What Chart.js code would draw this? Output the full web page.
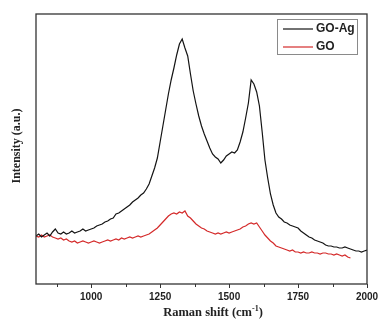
<!DOCTYPE html>
<html>
<head>
<meta charset="utf-8">
<script src="https://cdn.jsdelivr.net/npm/chart.js@4.4.0/dist/chart.umd.min.js"></script>
<style>
  html, body { margin: 0; padding: 0; background: #fff; }
  #wrap { width: 379px; height: 323px; }
</style>
</head>
<body>
<div id="wrap"><canvas id="c" width="379" height="323"></canvas></div>
<script>
// Raman shift axis (cm-1), 10 cm-1 steps
const shiftStart = 800;
const shiftStep = 10;

// GO-Ag intensity, 800..2000
const goAg = [
  48, 50, 47, 49, 51, 48, 52, 55, 51, 50,
  52, 50, 51, 53, 51, 52, 53, 55, 53, 54,
  55, 56, 58, 59, 60, 62, 63, 65, 66, 70,
  71, 73, 75, 77, 79, 82, 84, 86, 89, 91,
  95, 100, 108, 116, 126, 142, 158, 174, 190, 204,
  216, 229, 240, 245, 236, 228, 210, 193, 180, 168,
  158, 150, 143, 136, 130, 127, 125, 121, 124, 128,
  130, 132, 131, 134, 142, 152, 166, 181, 204, 200,
  192, 178, 152, 124, 106, 90, 79, 71, 67, 65,
  62, 61, 59, 58, 57, 56, 53, 51, 49, 47,
  46, 44, 43, 42, 41, 39, 38, 38, 37, 37,
  36, 36, 37, 36, 35, 34, 33, 33, 32, 33,
  34
];

// GO intensity, 800..1940
const goPlain = [
  48, 47, 49, 47, 48, 49, 47, 46, 45, 46,
  44, 45, 43, 42, 43, 41, 42, 43, 42, 41,
  42, 43, 42, 41, 42, 43, 44, 43, 44, 45,
  44, 46, 45, 46, 47, 46, 47, 48, 47, 48,
  49, 50, 52, 54, 56, 59, 62, 65, 68, 70,
  71, 70, 72, 71, 73, 68, 66, 63, 60, 58,
  56, 55, 53, 52, 51, 50, 51, 50, 51, 52,
  51, 52, 53, 54, 55, 57, 58, 60, 61, 60,
  61, 57, 53, 49, 46, 43, 41, 38, 37, 36,
  35, 34, 33, 34, 32, 32, 31, 32, 31, 31,
  32, 31, 31, 30, 31, 31, 30, 30, 29, 30,
  29, 28, 29, 27, 26
];

const seriesNames = ['GO-Ag', 'GO'];
const seriesColors = ['#141414', '#d42a2a'];
const majorTicks = [1000, 1250, 1500, 1750, 2000];
const minorTicks = [875, 1125, 1375, 1625, 1875];

function toPoints(arr) {
  return arr.map((v, i) => ({ x: shiftStart + i * shiftStep, y: v }));
}

const frameColor = '#333';

const framePlugin = {
  id: 'frame',
  afterDraw(chart) {
    const { ctx, chartArea: a, scales } = chart;
    const xs = scales.x;
    ctx.save();
    ctx.strokeStyle = frameColor;
    ctx.lineWidth = 1.3;
    ctx.strokeRect(a.left, a.top, a.right - a.left, a.bottom - a.top);

    // ticks below the bottom axis
    ctx.lineWidth = 1;
    majorTicks.concat(minorTicks).forEach(v => {
      const px = Math.round(xs.getPixelForValue(v)) + 0.5;
      const len = majorTicks.includes(v) ? 4 : 3;
      ctx.beginPath();
      ctx.moveTo(px, a.bottom);
      ctx.lineTo(px, a.bottom + len);
      ctx.stroke();
    });

    // axis titles
    ctx.fillStyle = '#222';
    ctx.font = 'bold 12px "Liberation Serif", "DejaVu Serif", serif';
    ctx.textAlign = 'center';
    ctx.textBaseline = 'middle';
    ctx.save();
    ctx.translate(17, (a.top + a.bottom) / 2 - 3);
    ctx.rotate(-Math.PI / 2);
    ctx.fillText('Intensity (a.u.)', 0, 0);
    ctx.restore();

    const base = 'Raman shift (cm';
    const sup = '-1';
    const tail = ')';
    ctx.font = 'bold 12.5px "Liberation Serif", serif';
    const wBase = ctx.measureText(base).width;
    const wTail = ctx.measureText(tail).width;
    ctx.font = 'bold 8px "Liberation Serif", serif';
    const wSup = ctx.measureText(sup).width;
    const total = wBase + wSup + wTail;
    let x0 = 213 - total / 2;
    const y0 = 313;
    ctx.textAlign = 'left';
    ctx.font = 'bold 12.5px "Liberation Serif", serif';
    ctx.fillText(base, x0, y0);
    ctx.font = 'bold 8px "Liberation Serif", serif';
    ctx.fillText(sup, x0 + wBase, y0 - 4);
    ctx.font = 'bold 12.5px "Liberation Serif", serif';
    ctx.fillText(tail, x0 + wBase + wSup, y0);

    // legend box
    const bx = a.right - 90, by = a.top + 5, bw = 80, bh = 35;
    ctx.strokeStyle = '#8a8a8a';
    ctx.lineWidth = 1;
    ctx.strokeRect(bx + 0.5, by + 0.5, bw, bh);
    ctx.font = 'bold 12px "Liberation Sans", Arial, sans-serif';
    ctx.textBaseline = 'middle';
    seriesNames.forEach((name, i) => {
      const ly = by + 10 + i * 18;
      ctx.strokeStyle = seriesColors[i];
      ctx.lineWidth = 1.2;
      ctx.beginPath();
      ctx.moveTo(bx + 6, ly);
      ctx.lineTo(bx + 36, ly);
      ctx.stroke();
      ctx.fillStyle = '#222';
      ctx.fillText(name, bx + 39, ly);
    });
    ctx.restore();
  }
};

new Chart(document.getElementById('c'), {
  type: 'line',
  data: {
    datasets: [
      { label: seriesNames[0], data: toPoints(goAg), borderColor: seriesColors[0], borderWidth: 1.2 },
      { label: seriesNames[1], data: toPoints(goPlain), borderColor: seriesColors[1], borderWidth: 1.2 }
    ]
  },
  options: {
    responsive: false,
    animation: false,
    layout: { padding: { top: 14, right: 12, left: 0, bottom: 0 } },
    elements: { point: { radius: 0 }, line: { tension: 0 } },
    plugins: { legend: { display: false }, tooltip: { enabled: false } },
    scales: {
      x: {
        type: 'linear',
        min: 800,
        max: 2000,
        afterBuildTicks: s => { s.ticks = majorTicks.map(v => ({ value: v })); },
        afterFit: s => { s.height = 39; s.paddingLeft = 0; s.paddingRight = 0; },
        grid: { display: false, drawTicks: false, tickLength: 0 },
        border: { display: false },
        ticks: {
          color: '#222',
          padding: 7,
          maxRotation: 0,
          callback: v => String(v),
          font: { family: '"Liberation Sans", Arial, sans-serif', size: 10, weight: 'bold' }
        }
      },
      y: {
        min: 0,
        max: 270,
        afterFit: s => { s.width = 36; },
        grid: { display: false },
        border: { display: false },
        ticks: { display: false }
      }
    }
  },
  plugins: [framePlugin]
});
</script>
</body>
</html>
